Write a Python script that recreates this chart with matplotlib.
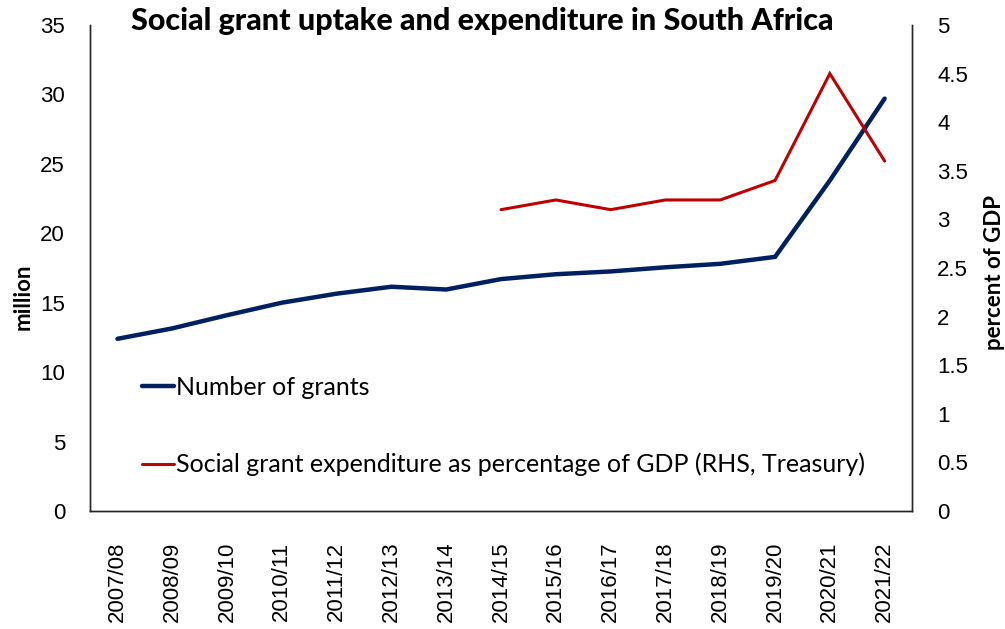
import numpy as np
import matplotlib.pyplot as plt
from matplotlib.ticker import FormatStrFormatter, MultipleLocator

years = ['2007/08', '2008/09', '2009/10', '2010/11', '2011/12', '2012/13', '2013/14',
         '2014/15', '2015/16', '2016/17', '2017/18', '2018/19', '2019/20', '2020/21', '2021/22']
# number of social grants, million
grants = [12.4, 13.15, 14.1, 15.0, 15.65, 16.15, 15.95, 16.7, 17.05, 17.25, 17.55, 17.8, 18.3, 23.8, 29.7]
# expenditure as percent of GDP, from 2014/15
spend_years = years[7:]
spend_pct = [3.1, 3.2, 3.1, 3.2, 3.2, 3.4, 4.5, 3.6]

blue = '#002060'
red = '#C00000'
tick_font = 'Liberation Sans'

fig = plt.figure(figsize=(10.05, 6.29), dpi=100)
ax = fig.add_axes([0.0896, 0.1876, 0.8179, 0.7727])
ax2 = ax.twinx()

x = np.arange(len(years))
xs = np.array([years.index(y) for y in spend_years])
l1, = ax.plot(x, grants, color=blue, lw=3.2, solid_capstyle='round', solid_joinstyle='miter',
              label='Number of grants')
l2, = ax2.plot(xs, spend_pct, color=red, lw=2.2, solid_capstyle='round', solid_joinstyle='miter',
               label='Social grant expenditure as percentage of GDP (RHS, Treasury)')

ax.set_xlim(-0.5, len(years) - 0.5)
ax.set_ylim(0, 35)
ax2.set_ylim(0, 5)
ax.yaxis.set_major_locator(MultipleLocator(5))
ax2.yaxis.set_major_locator(MultipleLocator(0.5))
ax2.yaxis.set_major_formatter(FormatStrFormatter('%g'))
ax.set_xticks(x)
ax.set_xticklabels(years, rotation=90, fontsize=16, family=tick_font)

for a in (ax, ax2):
    a.spines['top'].set_visible(False)
    for s in ('left', 'right', 'bottom'):
        a.spines[s].set_color('#262626')
        a.spines[s].set_linewidth(1.0)
    a.tick_params(length=0)

ax.tick_params(axis='x', pad=22)
ax.tick_params(axis='y', pad=18, labelsize=16)
ax2.tick_params(axis='y', pad=18, labelsize=16)
for lab in ax.get_yticklabels() + ax2.get_yticklabels():
    lab.set_family(tick_font)

ax.set_ylabel('million', fontsize=16, fontweight='bold', family='Lato')
ax.yaxis.set_label_coords(-0.069, 0.44)
ax2.set_ylabel('percent of GDP', fontsize=16, fontweight='bold', family='Lato')
ax2.yaxis.set_label_coords(1.087, 0.49)

fig.text(0.48, 0.966, 'Social grant uptake and expenditure in South Africa',
         ha='center', va='center', fontsize=22, fontweight='black', family='Lato')

ax.legend([l1, l2], [l1.get_label(), l2.get_label()], loc='upper left',
          bbox_to_anchor=(0.051, 0.298), frameon=False, prop={'family': 'Lato', 'size': 18},
          handlelength=1.3, handletextpad=0.05, labelspacing=2.14, borderaxespad=0)

fig.savefig('out.png', dpi=100)
